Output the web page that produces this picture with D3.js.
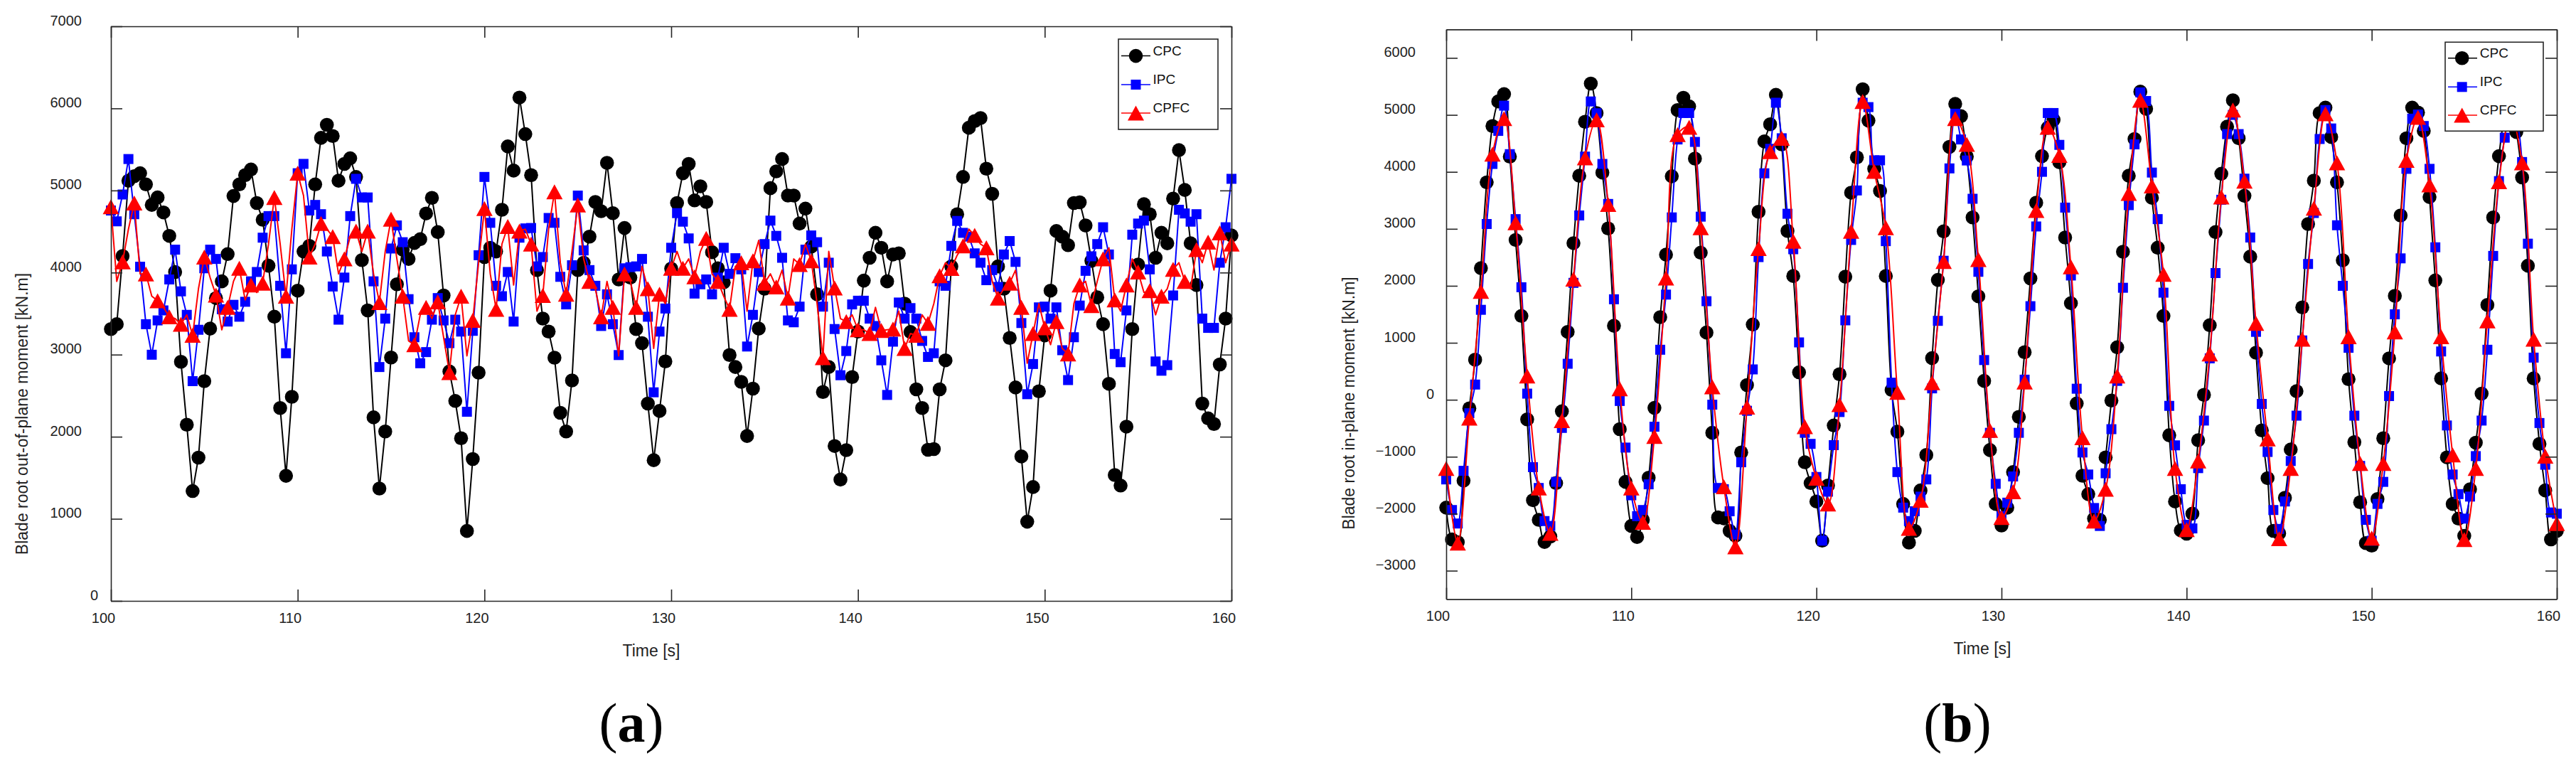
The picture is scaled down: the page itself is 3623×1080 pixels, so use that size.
<!DOCTYPE html>
<html>
<head>
<meta charset="utf-8">
<script src="https://cdn.jsdelivr.net/npm/d3@7"></script>
<style>
  html, body { margin: 0; padding: 0; background: #ffffff; }
  svg { display: block; }
</style>
</head>
<body>
<svg id="chart" width="3623" height="1080"></svg>
<script>
// ---------------- DATA ----------------
const timeStart = 100;
const sampleStep = 0.3125;       // spacing of the plotted samples [s]
const cpfcBStep = 0.625;         // spacing of the CPFC samples in panel (b) [s]
const xTickValues = [100, 110, 120, 130, 140, 150, 160];
const yTicksA = [0, 1000, 2000, 3000, 4000, 5000, 6000, 7000];
const yTicksB = [-3000, -2000, -1000, 0, 1000, 2000, 3000, 4000, 5000, 6000];
const seriesNames = ["CPC", "IPC", "CPFC"];

// (a) Blade root out-of-plane moment [kN.m]
const cpcA = [3312,3371,4202,5119,5174,5210,5074,4824,4915,4733,4447,4007,2913,2146,1338,1746,2677,3317,3689,3893,4225,4933,5074,5187,5255,4847,4643,4084,3462,2350,1524,2486,3780,4257,4325,5074,5641,5800,5664,5119,5324,5392,5165,4152,3539,2236,1369,2064,2965,
3857,4279,4166,4361,4406,4720,4910,4493,3721,2795,2436,1982,852,1728,2781,4189,4302,4257,4765,5537,5242,6132,5687,5187,4030,3439,3281,2963,2291,2064,2686,4030,4120,4438,4860,4747,5337,4724,3916,4543,3939,3312,3140,2404,1714,2314,2917,4048,
4847,5210,5324,4879,5051,4860,4248,4052,3880,2995,2849,2668,2009,2586,3317,3803,5028,5233,5383,4938,4938,4597,4779,4316,3735,2545,2849,1887,1478,1837,2727,3281,3902,4180,4484,4302,3893,4220,4234,3621,3276,2577,2350,1841,1850,2577,2931,4075,
4711,5165,5764,5846,5882,5265,4960,4075,3803,3203,2600,1760,965,1387,2554,3235,3780,4506,4438,4334,4847,4856,4574,4143,3698,3371,2645,1533,1405,2123,3312,4098,4833,4711,4180,4484,4357,4901,5492,5006,4357,3848,2404,2223,2155,2881,3439,4452];
const ipcA = [4756,4624,4951,5383,4711,4071,3371,2999,3417,3539,3916,4279,3771,3485,2677,3303,4052,4279,4166,3553,3403,3607,3462,3644,3893,4007,4425,4688,4688,3839,3017,4039,5210,5324,4756,4824,4711,4257,3830,3426,3939,4688,5142,4915,4915,3893,2849,3439,4293,
4574,4370,3676,3212,2895,3031,3426,3689,3417,3140,3426,3281,2304,3290,4211,5165,4606,3839,3712,4007,3403,4425,4538,4543,4075,4189,4665,4606,3948,3612,4089,4938,4270,4030,3839,3349,3735,3371,2995,4052,4066,4075,4166,3462,2541,3281,3562,4302,
4724,4620,4416,3744,3857,3916,3735,3939,4302,3984,4175,4039,3099,3485,4007,4347,4633,4447,4180,3417,3394,3585,4279,4452,4370,3585,4120,3312,2749,3044,3612,3657,3657,3439,3349,2931,2509,3158,3635,3439,3567,3439,3167,2972,3017,3893,3839,4325,
4629,4484,4438,4234,4120,3907,4030,3825,4220,4384,4130,3385,2518,2886,3576,3585,3439,3576,3054,2690,3212,3598,4021,4198,4347,4552,4220,3008,2908,3539,4461,4597,4633,4039,2917,2804,2872,3721,4765,4720,4620,4711,3439,3326,3326,4120,4552,5142];
const cpfcA = [4801,3893,4130,4529,4847,3984,3984,3712,3657,3576,3462,3439,3371,3485,3235,3803,4189,3939,3725,3303,3576,3893,4052,3666,3848,3757,3871,4347,4915,4347,3712,4529,5210,4938,4189,4347,4597,4529,4438,3984,4166,4438,4506,4257,4506,3984,3635,4257,4650,
4166,3712,3167,3122,3485,3576,3439,3644,3212,2781,3485,3712,2985,3417,4120,4779,3984,3553,4347,4561,3848,4506,4529,4347,3530,3721,4529,4983,4120,3735,4257,4824,4166,3893,3803,3462,3893,3576,2985,3984,3893,3576,4075,3803,3076,3735,3621,4052,
4257,4052,4166,3948,4257,4416,3984,3893,3712,3553,4075,4120,3530,4143,4393,3871,3984,3825,4030,3689,4166,4098,4347,4143,3621,2963,4257,3812,3439,3403,3485,3303,3303,3258,3576,3294,3303,3312,3530,3076,3258,3235,3485,3380,3621,3961,4120,4050,
4211,4325,4529,4452,4347,4302,3893,3689,3803,3871,4030,3576,2895,3258,3621,3326,3122,3403,3076,3008,3621,3848,3893,3598,3893,4166,4302,3666,3530,3848,4166,4007,3757,3780,3485,3712,3803,4039,4120,3893,3803,4279,4120,4370,4030,4484,4120,4347];

// (b) Blade root in-plane moment [kN.m]
const cpcB = [-1893,-2452,-2500,-1419,-150,704,2310,3816,4805,5236,5365,4268,2805,1471,-344,-1763,-2108,-2495,-2400,-1462,-202,1192,2749,3932,4879,5550,5033,3988,3007,1299,
-516,-1441,-2215,-2409,-2108,-1368,-142,1450,2547,3923,5085,5300,5150,4233,2581,1180,-580,-2065,-2080,-2300,-2387,-925,258,1321,3300,4534,4836,5352,4483,2964,
2172,482,-1097,-1462,-1785,-2473,-1505,-451,448,2160,3635,4255,5451,4900,4053,3666,2172,172,-559,-1828,-2507,-2300,-1591,-968,731,2104,2956,4440,5193,4977,
4268,3201,1816,331,-882,-1828,-2207,-1893,-1269,-301,835,2130,3459,4276,4775,4913,4169,2848,1695,-64,-1333,-1656,-2086,-2108,-1011,-13,921,2599,3932,4577,
5408,5107,3545,2668,1471,-623,-1785,-2293,-2350,-2000,-710,86,1308,2943,3967,4793,5257,4590,3580,2512,826,-537,-1376,-2300,-2344,-1720,-873,151,1622,3085,
3846,5033,5128,4612,3816,2448,361,-744,-1798,-2516,-2559,-1742,-675,727,1824,3235,4590,5128,5042,4719,3558,2095,375,-1011,-1828,-2086,-2387,-1570,-753,108,
1665,3201,4276,4950,5150,4700,3902,2353,375,-774,-1591,-2450,-2300];
const ipcB = [-1398,-1935,-2172,-1247,-236,267,1579,3085,4139,4719,5162,4311,3171,1975,108,-1183,-1548,-2129,-2215,-1441,-494,632,2052,3235,4268,5236,5029,4139,3437,1764,
-21,-839,-1677,-2043,-1935,-1484,-473,878,1846,3201,4569,5033,5033,4526,3214,1730,-86,-1548,-1570,-1957,-2366,-1097,-193,533,2504,3975,4405,5214,4590,3265,
2642,1007,-580,-774,-1355,-2473,-1613,-796,-215,1394,2805,3674,5214,5137,4203,4203,2784,300,-1269,-1893,-2129,-1957,-1700,-1398,200,1385,2440,4061,5021,4569,
4200,3528,2246,697,-580,-1475,-2043,-1806,-1346,-580,353,1643,3042,4001,5033,5033,4474,3373,2181,194,-925,-1312,-1900,-2215,-1290,-516,331,1966,3416,4483,
5395,5244,3988,3171,1880,-107,-800,-1570,-2194,-2258,-1200,-365,727,2224,3511,4663,5000,4663,3881,2848,1192,-73,-916,-1935,-2267,-1785,-1075,-279,1041,2383,
3278,4577,5085,4762,3063,2000,912,-279,-1161,-2108,-2473,-1828,-1441,65,1500,2482,4053,4934,5007,4805,4053,2676,848,-451,-1312,-1656,-2086,-1699,-989,-365,
878,2525,3838,4600,5000,4900,4173,2740,740,-408,-1140,-1978,-2000];
const cpfcB = [-1204,-2516,-322,1902,4311,4934,3106,417,-1548,-2344,-365,2117,4246,4913,3429,194,-1548,-2151,-645,2138,4655,4784,3020,228,-1527,-2581,-129,2654,4354,4590,
2784,-473,-1376,-1828,-86,2956,5236,4010,3020,129,-2258,-1763,300,2427,4934,4483,2461,-537,-2065,-1613,310,3321,4784,4289,2332,-666,-2129,-1570,417,3622,
5257,3752,2203,-1204,-2280,-1075,805,3558,5085,3838,1342,-688,-2439,-1204,1063,3364,5021,4160,1106,-1118,-2430,-1118,1192,4203,4956,3773,1106,-968,-2452,-1204,
1385,3829,5000,4160,1063,-989,-2172];

// ---------------- DRAWING ----------------
const svg = d3.select("#chart");
const FONT = "'Liberation Sans', Arial, Helvetica, sans-serif";
const AX = "#262626";
const colors = { CPC: "#000000", IPC: "#0000ff", CPFC: "#ff0000" };

function toPoints(values, step) {
  return values.map((v, i) => [timeStart + i * step, v]);
}

function drawMarker(sel, type, cx, cy) {
  if (type === "CPC") {
    sel.append("circle").attr("cx", cx).attr("cy", cy).attr("r", 9.8).attr("fill", colors.CPC);
  } else if (type === "IPC") {
    sel.append("rect").attr("x", cx - 7).attr("y", cy - 7).attr("width", 14).attr("height", 14).attr("fill", colors.IPC);
  } else {
    const w = 23, h = 21;
    sel.append("path").attr("d", `M${cx},${cy - h / 2}L${cx + w / 2},${cy + h / 2}L${cx - w / 2},${cy + h / 2}Z`).attr("fill", colors.CPFC);
  }
}

function drawPanel(cfg) {
  const g = svg.append("g");
  const x = d3.scaleLinear().domain([100, 160]).range([cfg.left, cfg.right]);
  const y = d3.scaleLinear().domain(cfg.yDomain).range([cfg.bottom, cfg.top]);

  const series = [
    { name: "CPC", pts: toPoints(cfg.cpc, sampleStep), every: 1 },
    { name: "IPC", pts: toPoints(cfg.ipc, sampleStep), every: 1 },
    { name: "CPFC", pts: toPoints(cfg.cpfc, cfg.cpfcStep), every: cfg.cpfcEvery }
  ];
  const line = d3.line().x(d => x(d[0])).y(d => y(d[1])).curve(cfg.curve);
  series.forEach(s => {
    const sg = g.append("g");
    sg.append("path").attr("d", line(s.pts)).attr("fill", "none")
      .attr("stroke", colors[s.name]).attr("stroke-width", 2).attr("stroke-linejoin", "round");
    s.pts.forEach((p, i) => {
      if (i % s.every === 0) drawMarker(sg, s.name, x(p[0]), y(p[1]));
    });
  });

  const styleAxis = a => {
    a.selectAll(".domain, .tick line").attr("stroke", AX).attr("stroke-width", 1.6);
    a.attr("font-family", FONT).attr("font-size", 20);
    a.selectAll(".tick text").attr("fill", "#222");
  };
  const bottom = g.append("g").attr("transform", `translate(0,${cfg.bottom})`)
    .call(d3.axisBottom(x).tickValues(xTickValues).tickSizeInner(-16).tickSizeOuter(0)
      .tickPadding(cfg.xPad).tickFormat(d3.format("d")));
  styleAxis(bottom);
  bottom.selectAll(".tick text").attr("dx", cfg.xDx);

  const top = g.append("g").attr("transform", `translate(0,${cfg.top})`)
    .call(d3.axisTop(x).tickValues(xTickValues).tickSizeInner(-16).tickSizeOuter(0).tickFormat(""));
  styleAxis(top);

  const left = g.append("g").attr("transform", `translate(${cfg.left},0)`)
    .call(d3.axisLeft(y).tickValues(cfg.yTicks).tickSizeInner(-16).tickSizeOuter(0)
      .tickPadding(cfg.yPad).tickFormat(d3.format("d")));
  styleAxis(left);
  left.selectAll(".tick text").attr("dy", null).attr("y", -2)
    .attr("dx", d => d === 0 ? cfg.zeroShift : 0);

  const right = g.append("g").attr("transform", `translate(${cfg.right},0)`)
    .call(d3.axisRight(y).tickValues(cfg.yTicks).tickSizeInner(-16).tickSizeOuter(0).tickFormat(""));
  styleAxis(right);

  g.append("text").attr("x", cfg.xTitleX).attr("y", cfg.xTitleY).attr("text-anchor", "middle")
    .attr("font-family", FONT).attr("font-size", 23).attr("fill", "#222").text("Time [s]");
  g.append("text").attr("transform", `translate(${cfg.yTitleX},${cfg.yTitleY}) rotate(-90)`)
    .attr("text-anchor", "middle").attr("font-family", FONT).attr("font-size", 23).attr("fill", "#222")
    .text(cfg.yTitle);

  const L = cfg.legend;
  const lg = g.append("g");
  lg.append("rect").attr("x", L.x).attr("y", L.y).attr("width", L.w).attr("height", L.h)
    .attr("fill", "#fff").attr("stroke", AX).attr("stroke-width", 1.6);
  seriesNames.forEach((name, i) => {
    const cy = L.rows[i];
    lg.append("line").attr("x1", L.lineX1).attr("x2", L.lineX2).attr("y1", cy).attr("y2", cy)
      .attr("stroke", colors[name]).attr("stroke-width", 1.5);
    drawMarker(lg, name, L.markerX, cy);
    lg.append("text").attr("x", L.textX).attr("y", cy - 1).attr("font-family", FONT)
      .attr("font-size", 19).attr("fill", "#111").text(name);
  });

  const pl = g.append("text").attr("x", cfg.labelX).attr("y", 1043).attr("text-anchor", "middle")
    .attr("font-family", "'Liberation Serif', 'Times New Roman', serif").attr("font-size", 78).attr("fill", "#000");
  pl.append("tspan").text("(");
  pl.append("tspan").attr("font-weight", "bold").text(cfg.label);
  pl.append("tspan").text(")");
}

drawPanel({
  left: 156, right: 1732, top: 37, bottom: 845, yDomain: [0, 7000], yTicks: yTicksA,
  cpc: cpcA, ipc: ipcA, cpfc: cpfcA, cpfcStep: sampleStep, cpfcEvery: 2,
  curve: d3.curveLinear,
  xPad: 17, xDx: -11, yPad: 41, zeroShift: 23,
  xTitleX: 916, xTitleY: 923, yTitleX: 39, yTitleY: 582,
  yTitle: "Blade root out-of-plane moment [kN.m]",
  legend: { x: 1573, y: 55, w: 140, h: 127, rows: [78.6, 119, 159], lineX1: 1577, lineX2: 1618, markerX: 1597.5, textX: 1621.5 },
  labelX: 888, label: "a"
});

drawPanel({
  left: 2034, right: 3596, top: 41.4, bottom: 842.6, yDomain: [-3500, 6500], yTicks: yTicksB,
  cpc: cpcB, ipc: ipcB, cpfc: cpfcB, cpfcStep: cpfcBStep, cpfcEvery: 1,
  curve: d3.curveCatmullRom.alpha(0.5),
  xPad: 16, xDx: -12, yPad: 43, zeroShift: 26,
  xTitleX: 2788, xTitleY: 920, yTitleX: 1905, yTitleY: 567,
  yTitle: "Blade root in-plane moment [kN.m]",
  legend: { x: 3439, y: 59.3, w: 138, h: 125, rows: [81.7, 122.3, 162], lineX1: 3443, lineX2: 3484, markerX: 3462.7, textX: 3487.8 },
  labelX: 2753, label: "b"
});
</script>
</body>
</html>
